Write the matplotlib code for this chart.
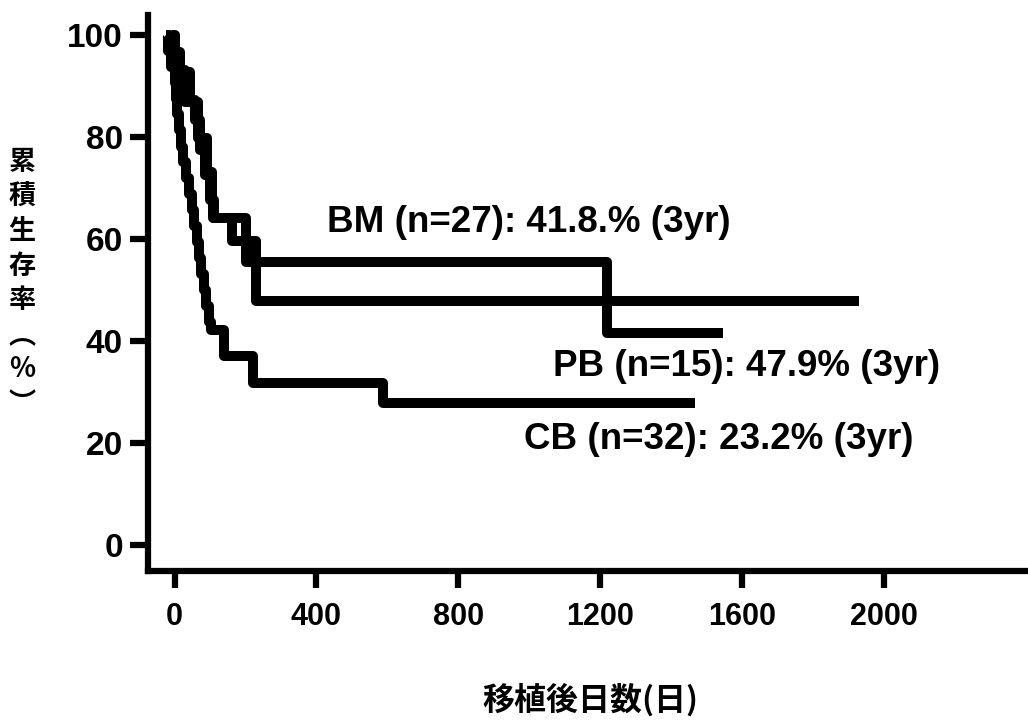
import matplotlib.pyplot as plt

# step curves: day of each step, survival (%) after it
bm_days = [-18, -13, 16, 44, 58, 72, 86, 100, 109, 202, 1220, 1547]
bm_surv = [100, 96.7, 92.7, 87.3, 83.3, 77.5, 72.5, 67.6, 64.1, 55.5, 41.6, 41.6]

pb_days = [-7, 1, 30, 66, 92, 106, 111, 162, 230, 1931]
pb_surv = [100, 93.1, 86.9, 79.8, 73.1, 67.6, 64.1, 59.6, 47.8, 47.8]

cb_days = [-24, -18, -10, 0, 4, 8, 13, 17, 25, 32, 41, 50, 55, 62, 70, 75, 82,
           89, 96, 103, 140, 221, 588, 1468]
cb_surv = [100, 96.9, 93.8, 90.6, 87.5, 84.4, 81.3, 78.1, 75.0, 71.9, 68.8,
           65.6, 62.5, 59.4, 56.3, 53.1, 50.0, 46.9, 43.8, 42.2, 37.1, 31.8,
           27.8, 27.8]

labels = ['BM (n=27): 41.8.% (3yr)', 'PB (n=15): 47.9% (3yr)', 'CB (n=32): 23.2% (3yr)']
label_pos = [(430, 63.3), (1068, 34.9), (986, 20.6)]

xticks = [0, 400, 800, 1200, 1600, 2000]
yticks = [0, 20, 40, 60, 80, 100]

fig = plt.figure(figsize=(10.28, 7.22), dpi=100)
ax = fig.add_axes([148 / 1028, 1 - 571 / 722, 1 - 148 / 1028, (571 - 15) / 722])

for d, s in [(bm_days, bm_surv), (pb_days, pb_surv), (cb_days, cb_surv)]:
    ax.step(d, s, where='post', color='black', lw=7.2,
            solid_joinstyle='round', solid_capstyle='butt')

for txt, (x, y) in zip(labels, label_pos):
    ax.text(x, y, txt, ha='left', va='center', fontsize=26.5, fontweight='bold',
            family='Liberation Sans', color='black')

ax.set_xlim(-75, 2407)
ax.set_ylim(-5.1, 103.9)
ax.set_xticks(xticks)
ax.set_yticks(yticks)
ax.spines['top'].set_visible(False)
ax.spines['right'].set_visible(False)
ax.spines['left'].set_linewidth(4.5)
ax.spines['bottom'].set_linewidth(4.5)
ax.tick_params(axis='y', length=13, width=4.5, pad=5)
ax.tick_params(axis='x', length=12, width=4.5, pad=10)
for t in ax.get_yticklabels():
    t.set_fontfamily('Liberation Sans')
    t.set_fontweight('bold')
    t.set_fontsize(24)
for t in ax.get_xticklabels():
    t.set_fontfamily('Liberation Sans')
    t.set_fontweight('bold')
    t.set_fontsize(22)

fig.text(22 / 1028, 1 - 283 / 722, '累\n積\n生\n存\n率\n︵\n%\n︶',
         ha='center', va='center', fontsize=19.5, fontweight='bold',
         family=['Noto Sans CJK JP', 'DejaVu Sans'], linespacing=1.3)
fig.text(590 / 1028, 1 - 700 / 722, '移植後日数(日)', ha='center', va='center',
         fontsize=23, fontweight='bold', family=['Noto Sans CJK JP', 'DejaVu Sans'])

fig.savefig('out.png', dpi=100)
